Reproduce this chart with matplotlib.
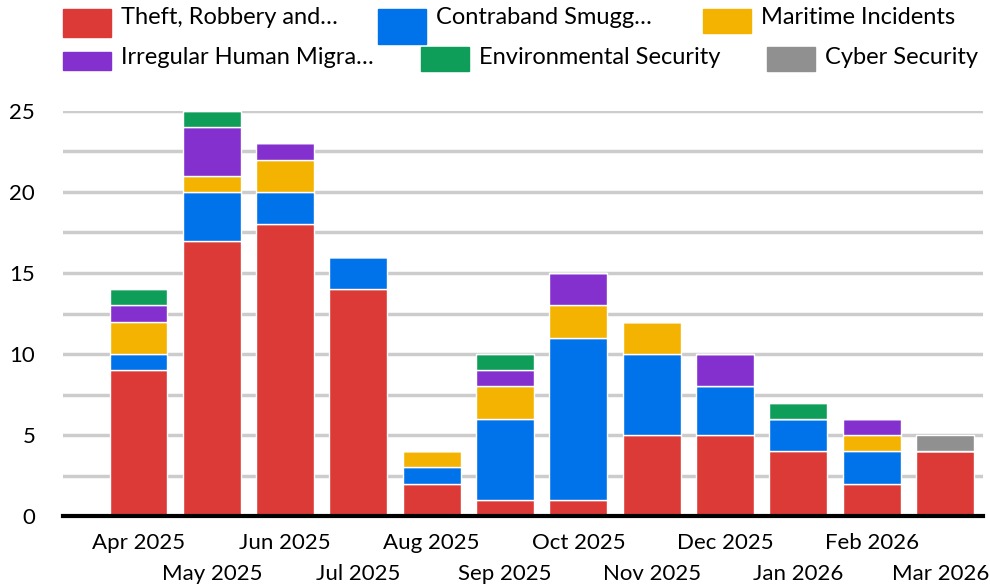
import matplotlib
matplotlib.use("Agg")
import matplotlib.pyplot as plt
from matplotlib.patches import Rectangle
from matplotlib.transforms import blended_transform_factory, offset_copy
import numpy as np

plt.rcParams['font.family'] = ['Lato', 'DejaVu Sans']

months = ["Apr 2025", "May 2025", "Jun 2025", "Jul 2025", "Aug 2025", "Sep 2025",
          "Oct 2025", "Nov 2025", "Dec 2025", "Jan 2026", "Feb 2026", "Mar 2026"]
series_names = ["Theft, Robbery and…", "Contraband Smugg…", "Maritime Incidents",
                "Irregular Human Migra…", "Environmental Security", "Cyber Security"]
theft = [9, 17, 18, 14, 2, 1, 1, 5, 5, 4, 2, 4]
contraband = [1, 3, 2, 2, 1, 5, 10, 5, 3, 2, 2, 0]
maritime = [2, 1, 2, 0, 1, 2, 2, 2, 0, 0, 1, 0]
migration = [1, 3, 1, 0, 0, 1, 2, 0, 2, 0, 1, 0]
environmental = [1, 1, 0, 0, 0, 1, 0, 0, 0, 1, 0, 0]
cyber = [0, 0, 0, 0, 0, 0, 0, 0, 0, 0, 0, 1]
colors = ["#DB3A37", "#0073EA", "#F5B301", "#8430CE", "#0E9E5A", "#909090"]

data = [theft, contraband, maritime, migration, environmental, cyber]

fig = plt.figure(figsize=(9.9, 5.88), dpi=100)
ax = fig.add_axes([63/990, 1-516/588, (983-63)/990, (516-111)/588])

x = np.arange(len(months))
bottom = np.zeros(len(months))
for vals, col in zip(data, colors):
    v = np.array(vals, dtype=float)
    ax.bar(x, v, bottom=bottom, width=0.79, color=col, edgecolor="white",
           linewidth=1.0, zorder=3)
    bottom += v

ax.set_ylim(0, 25)
ax.set_xlim(-1.03, 11.52)
ax.set_yticks(np.arange(0, 26, 5))
ax.set_yticks(np.arange(0, 26, 2.5), minor=True)
ax.grid(axis="y", which="both", color="#CCCCCC", linewidth=2.5, zorder=0)
ax.tick_params(axis="y", which="both", length=0, labelsize=16, pad=20)
ax.set_xticks(x)
ax.set_xticklabels([])
ax.tick_params(axis="x", length=0)

trans = blended_transform_factory(ax.transData, ax.transAxes)
for i, m in enumerate(months):
    dy = -27 if i % 2 == 0 else -58
    dx = -4 if i == len(months) - 1 else 0
    t = offset_copy(trans, fig=fig, x=dx, y=dy, units="dots")
    ax.text(x[i], 0, m, transform=t, ha="center", va="center", fontsize=16)

for s in ["top", "right", "left"]:
    ax.spines[s].set_visible(False)
ax.spines["bottom"].set_linewidth(3)
ax.spines["bottom"].set_color("black")
ax.spines["bottom"].set_zorder(5)

# legend (flow layout)
leg_pos = [(63, 9, 37, 18), (378, 9, 44, 18), (703, 9, 33, 18),
           (63, 52, 70, 57), (421, 47, 71, 57), (767, 47, 71, 57)]
for (px, y0, y1, ty), name, col in zip(leg_pos, series_names, colors):
    fig.patches.append(Rectangle((px/990, 1-y1/588), 48/990, (y1-y0)/588,
                                 transform=fig.transFigure, color=col))
    fig.text((px+58)/990, 1-ty/588, name, fontsize=17, va="center", ha="left")

fig.savefig("out.png", dpi=100)
